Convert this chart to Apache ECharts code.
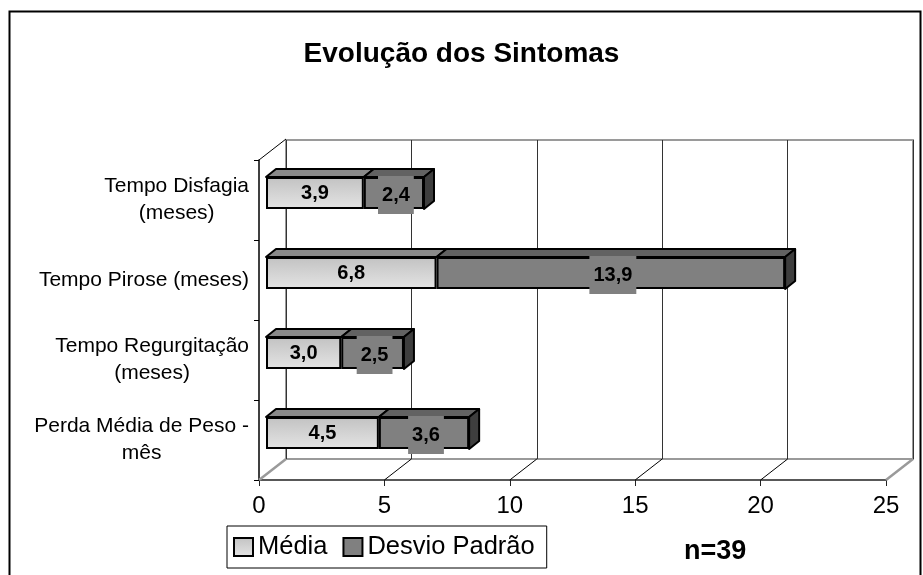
<!DOCTYPE html>
<html><head><meta charset="utf-8">
<script src="https://cdn.jsdelivr.net/npm/echarts@6/dist/echarts.min.js"></script>
<style>html,body{margin:0;padding:0;background:#fff}#c{width:923px;height:575px}</style>
</head><body><div id="c"></div>
<script>
const categories = ['Tempo Disfagia\n(meses)', 'Tempo Pirose (meses)', 'Tempo Regurgitação\n(meses)', 'Perda Média de Peso -\nmês'];
const media = [3.9, 6.8, 3.0, 4.5];
const desvio = [2.4, 13.9, 2.5, 3.6];
const xTicks = [0, 5, 10, 15, 20, 25];
const seriesNames = ['Média', 'Desvio Padrão'];
const titleText = 'Evolução dos Sintomas';
const noteText = 'n=39';

const FONT = 'Liberation Sans, Arial, sans-serif';
const WDX = 27, WDY = -21;   // wall depth
const BDX = 10, BDY = -8;    // bar depth
const BAR_W = 32;
const fmt = v => v.toFixed(1).replace('.', ',');

const chart = echarts.init(document.getElementById('c'), null, {renderer: 'canvas'});

const mediaGrad = new echarts.graphic.LinearGradient(0, 0, 0, 1, [
  {offset: 0, color: '#c2c2c2'}, {offset: 1, color: '#e4e4e4'}
]);

const option = {
  animation: false,
  backgroundColor: '#fff',
  title: {
    text: titleText, left: 'center', top: 35,
    textStyle: {fontFamily: FONT, fontSize: 28, fontWeight: 'bold', color: '#000'}
  },
  legend: {
    left: 227, top: 526,
    data: seriesNames,
    icon: 'rect', itemWidth: 19, itemHeight: 18, itemGap: 15,
    padding: [8, 12, 8, 6],
    borderColor: '#000', borderWidth: 1,
    itemStyle: {borderColor: '#000', borderWidth: 2},
    textStyle: {fontFamily: FONT, fontSize: 25.5, color: '#000'}
  },
  graphic: [
    {type: 'rect', z: -10, shape: {x: 9.5, y: 11.5, width: 911, height: 600},
     style: {fill: '#fff', stroke: '#000', lineWidth: 2}},
    {type: 'text', left: 684, top: 538,
     style: {text: noteText, font: 'bold 27px ' + FONT, fill: '#000'}}
  ],
  grid: [
    {left: 286, right: 10, top: 140, bottom: 116, show: true, borderColor: '#9a9a9a', borderWidth: 2, backgroundColor: 'transparent'},
    {left: 259, right: 37, top: 160, bottom: 95},
    {left: 266, right: 30, top: 153, bottom: 102}
  ],
  xAxis: [
    {gridIndex: 0, type: 'value', min: 0, max: 25, interval: 5,
     axisLine: {show: false}, axisTick: {show: false}, axisLabel: {show: false},
     splitLine: {show: true, lineStyle: {color: '#333', width: 1}}},
    {gridIndex: 1, type: 'value', min: 0, max: 25, interval: 5,
     axisLine: {show: true, lineStyle: {color: '#222', width: 1.5}},
     axisTick: {show: true, length: 6, lineStyle: {color: '#222', width: 1}},
     axisLabel: {fontFamily: FONT, fontSize: 24, color: '#000', margin: 14},
     splitLine: {show: false}},
    {gridIndex: 2, type: 'value', min: 0, max: 25, show: false, splitLine: {show: false}}
  ],
  yAxis: [
    {gridIndex: 0, type: 'category', data: categories, show: false},
    {gridIndex: 1, type: 'category', data: categories, inverse: true,
     axisLine: {show: true, lineStyle: {color: '#000', width: 1.5}},
     axisTick: {show: true, length: 5, lineStyle: {color: '#000', width: 1}},
     axisLabel: {
       fontFamily: FONT, fontSize: 21, color: '#000', margin: 10, lineHeight: 27,
       formatter: v => v.split('\n').map(l => '{c|' + l + '}').join('\n'),
       rich: {c: {align: 'center', fontFamily: FONT, fontSize: 21, color: '#000', lineHeight: 27}}
     }},
    {gridIndex: 2, type: 'category', data: categories, inverse: true, show: false}
  ],
  series: [
    {
      type: 'custom', name: 'frame', xAxisIndex: 1, yAxisIndex: 1, silent: true, z: 1,
      data: xTicks.map(t => [t]),
      renderItem: (params, api) => {
        const t = api.value(0);
        const cs = params.coordSys;
        const x = api.coord([t, 0])[0];
        const yb = cs.y + cs.height;
        const edge = (t === xTicks[0] || t === xTicks[xTicks.length - 1]);
        const children = [{
          type: 'line', shape: {x1: x, y1: yb, x2: x + WDX, y2: yb + WDY},
          style: {stroke: edge ? '#9a9a9a' : '#000', lineWidth: edge ? 2.5 : 1}
        }];
        if (t === xTicks[0]) {
          children.push({type: 'line', shape: {x1: x, y1: cs.y, x2: x + WDX, y2: cs.y + WDY},
            style: {stroke: '#000', lineWidth: 1}});
        }
        return {type: 'group', children};
      }
    },
    {
      type: 'custom', name: 'faces', xAxisIndex: 2, yAxisIndex: 2, silent: true, z: 2,
      data: categories.map((c, i) => [i, media[i], desvio[i]]),
      renderItem: (params, api) => {
        const i = api.value(0), m = api.value(1), d = api.value(2);
        const p0 = api.coord([0, i]), p1 = api.coord([m, i]), p2 = api.coord([m + d, i]);
        const yT = p0[1] - BAR_W / 2, yB = p0[1] + BAR_W / 2;
        const face = (pts, fill) => ({type: 'polygon', shape: {points: pts},
          style: {fill, stroke: '#000', lineWidth: 2, lineJoin: 'round'}});
        return {type: 'group', children: [
          face([[p0[0], yT], [p1[0], yT], [p1[0] + BDX, yT + BDY], [p0[0] + BDX, yT + BDY]], '#8a8a8a'),
          face([[p1[0], yT], [p2[0], yT], [p2[0] + BDX, yT + BDY], [p1[0] + BDX, yT + BDY]], '#626262'),
          face([[p2[0], yT], [p2[0], yB], [p2[0] + BDX, yB + BDY], [p2[0] + BDX, yT + BDY]], '#3e3e3e')
        ]};
      }
    },
    {
      type: 'bar', name: seriesNames[0], stack: 'a', xAxisIndex: 2, yAxisIndex: 2, z: 3,
      barWidth: BAR_W, data: media,
      itemStyle: {color: mediaGrad, borderColor: '#000', borderWidth: 2},
      label: {show: true, position: 'inside', formatter: p => fmt(p.value),
        fontFamily: FONT, fontSize: 20, fontWeight: 'bold', color: '#000'}
    },
    {
      type: 'bar', name: seriesNames[1], stack: 'a', xAxisIndex: 2, yAxisIndex: 2, z: 3,
      barWidth: BAR_W, data: desvio,
      itemStyle: {color: '#808080', borderColor: '#000', borderWidth: 2},
      label: {show: true, position: 'inside', formatter: p => fmt(p.value),
        fontFamily: FONT, fontSize: 20, fontWeight: 'bold', color: '#000',
        backgroundColor: '#808080', padding: [8, 4, 10, 4], offset: [2, 2]}
    }
  ]
};
chart.setOption(option);
</script></body></html>
